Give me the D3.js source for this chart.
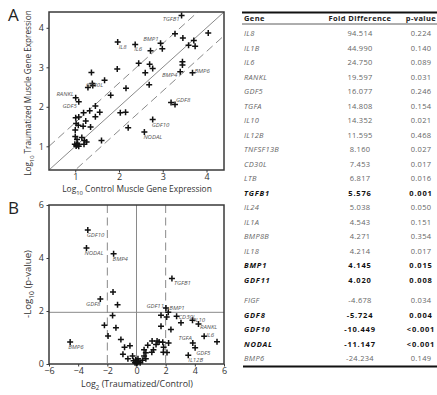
<!DOCTYPE html>
<html>
<head>
<meta charset="utf-8">
<script src="https://cdn.jsdelivr.net/npm/d3@7"></script>
<style>
  body { margin: 0; background: #fff; }
  svg { display: block; font-family: "Open Sans", sans-serif; }
</style>
</head>
<body>
<div id="chart"></div>
<script>
// ---- panel A: log10 control vs log10 traumatized expression ----
const controlA = [3.43, 1.97, 2.37, 2.95, 2.99, 2.72, 3.28, 3.46, 4.04, 3.71, 3.59, 3.74, 3.45, 3.45, 3.40, 3.68,
  2.45, 2.70, 2.77, 2.60, 2.69, 2.16, 1.96, 1.37, 1.67, 1.39, 1.40, 1.29, 1.81, 1.01, 1.08, 1.46, 1.33, 1.56,
  1.46, 1.19, 1.01, 1.08, 1.02, 1.24, 1.18, 1.35, 1.00, 1.07, 1.00, 1.04, 1.15, 1.21, 1.26, 1.20, 1.05, 1.02,
  1.08, 0.99, 1.60, 2.03, 2.15, 2.21, 3.19, 3.28, 2.77, 2.58, 1.03, 1.06];
const traumaA = [4.31, 3.64, 3.58, 3.61, 3.47, 3.42, 3.85, 3.74, 3.87, 3.68, 3.56, 3.53, 3.14, 3.06, 2.89, 2.86,
  3.10, 3.08, 2.97, 2.86, 2.56, 2.47, 2.96, 2.87, 2.67, 2.59, 2.54, 2.49, 2.29, 2.23, 2.13, 2.02, 1.90, 1.86,
  1.75, 1.85, 1.72, 1.74, 1.58, 1.64, 1.51, 1.49, 1.41, 1.53, 1.25, 1.17, 1.22, 1.15, 1.11, 1.05, 1.07, 1.01,
  1.00, 1.05, 1.15, 1.85, 1.86, 1.47, 2.11, 2.06, 1.68, 1.36, 1.03, 1.04];
const namesA = ["TGFB1", "IL8", "IL6", "BMP1", "", "", "", "", "", "", "", "", "", "", "BMP4", "BMP6",
  "", "", "", "", "", "", "", "", "CD30L", "", "", "", "", "RANKL", "GDF5", "", "", "",
  "", "", "", "", "", "", "", "", "", "", "", "", "", "", "", "", "", "",
  "", "", "", "", "", "", "", "GDF8", "GDF10", "NODAL", "", ""];
const ticksA = [1, 2, 3, 4];
const foldLineA = 0.6; // log10(4)

// ---- panel B: volcano plot ----
const log2Fold = [-3.34, -3.43, -1.57, 2.43, -1.61, -2.48, -1.30, 2.02, 2.18, 1.68, 2.07, 2.75, 3.05, 3.84, 4.25,
  4.64, 5.52, 3.86, 4.02, 3.55, -1.64, -2.20, -1.41, -1.95, -4.55, -1.07, -0.45, -0.82, -0.93, -0.59, -0.27,
  -0.20, -0.10, 0.00, 0.08, 0.15, -0.05, 0.10, 0.02, 0.25, 1.68, 2.36, 0.77, 1.07, 1.41, 1.55, 1.34, 1.80,
  1.86, 1.84, 2.20, 2.09, 1.16, 1.05, 0.64, 0.52, 0.64, 0.41, 0.52];
const negLogP = [5.06, 4.38, 4.16, 3.23, 2.72, 2.45, 2.24, 2.11, 1.95, 1.84, 1.77, 1.80, 1.56, 1.65, 1.51,
  1.05, 0.84, 0.79, 0.61, 0.33, 1.83, 1.46, 1.37, 1.06, 0.83, 0.92, 0.69, 0.63, 0.37, 0.20, 0.30,
  0.12, 0.05, 0.02, 0.06, 0.10, 0.15, 0.20, 0.08, 0.05, 1.42, 1.30, 0.71, 0.87, 0.87, 0.83, 0.74, 0.82,
  0.63, 0.44, 0.79, 0.43, 0.54, 0.44, 0.42, 0.30, 0.20, 0.14, 0.54];
const namesB = ["GDF10", "NODAL", "BMP4", "TGFB1", "", "GDF8", "", "GDF11", "BMP1", "", "", "CD30L", "", "IL10", "RANKL",
  "IL6", "", "TGFA", "GDF5", "IL12B", "", "", "", "", "BMP6", "", "", "", "", "", "",
  "", "", "", "", "", "", "", "", "", "", "", "", "", "", "", "", "",
  "", "", "", "", "", "", "", "", "", "", ""];
const ticksBx = [-6, -4, -2, 0, 2, 4, 6];
const ticksBy = [0, 2, 4, 6];
const pCutoff = 1.95;
const foldCutoff = 2;

// ---- table ----
const tableGenes = ["IL8", "IL1B", "IL6", "RANKL", "GDF5", "TGFA", "IL10", "IL12B", "TNFSF13B", "CD30L", "LTB", "TGFB1",
  "IL24", "IL1A", "BMP8B", "IL18", "BMP1", "GDF11", "FIGF", "GDF8", "GDF10", "NODAL", "BMP6"];
const tableFold = ["94.514", "44.990", "24.750", "19.597", "16.077", "14.808", "14.352", "11.595", "8.160", "7.453", "6.817", "5.576",
  "5.038", "4.543", "4.271", "4.214", "4.145", "4.020", "-4.678", "-5.724", "-10.449", "-11.147", "-24.234"];
const tablePval = ["0.224", "0.140", "0.089", "0.031", "0.246", "0.154", "0.021", "0.468", "0.027", "0.017", "0.016", "0.001",
  "0.050", "0.151", "0.354", "0.017", "0.015", "0.008", "0.034", "0.004", "<0.001", "<0.001", "0.149"];
const boldGenes = ["TGFB1", "BMP1", "GDF11", "GDF8", "GDF10", "NODAL"];
const firstDownGene = "FIGF";

// label placement: [dx, dy, anchor]
const labelPosA = {
  TGFB1: [-2, 5, "end"], IL8: [1, 7, "start"], IL6: [-1, 7, "start"], BMP1: [-2, -2, "end"],
  BMP4: [-3, 5, "end"], BMP6: [2, 0, "start"], CD30L: [-1.5, 7, "end"], RANKL: [-2, -2, "end"],
  GDF5: [-2, 6.5, "end"], GDF8: [1, -2, "start"], GDF10: [-1, 7.5, "start"], NODAL: [-1, 7, "start"]
};
const labelPosB = {
  GDF10: [-1, 7, "start"], NODAL: [-2, 7, "start"], BMP4: [-1, 7, "start"], TGFB1: [2, 7, "start"],
  GDF8: [0, 7, "end"], GDF11: [-2, 0, "end"], BMP1: [1, -2, "start"], CD30L: [2, 3, "start"],
  IL10: [1.5, 1.5, "start"], RANKL: [1.5, 5, "start"], IL6: [2, 1, "start"], TGFA: [-1, -3, "end"],
  GDF5: [1, 7, "start"], IL12B: [0, 7, "start"], BMP6: [-2, 7, "start"]
};

const W = 437, H = 395;
const svg = d3.select("#chart").append("svg").attr("width", W).attr("height", H);

const FRAME = "#3a3a3a";
const REF = "#8a8a8a";
const crossPath = "M-3,0H3M0,-3V3";

function drawPanel(box, xDomain, yDomain, xTicks, yTicks, clipId) {
  const x = d3.scaleLinear().domain(xDomain).range([box.left, box.right]);
  const y = d3.scaleLinear().domain(yDomain).range([box.bottom, box.top]);

  svg.append("clipPath").attr("id", clipId)
    .append("rect")
    .attr("x", box.left).attr("y", box.top)
    .attr("width", box.right - box.left).attr("height", box.bottom - box.top);

  const xAxis = svg.append("g")
    .attr("transform", `translate(0,${box.bottom})`)
    .call(d3.axisBottom(x).tickValues(xTicks).tickSize(2.5).tickPadding(1.5).tickFormat(d3.format("d")));
  const yAxis = svg.append("g")
    .attr("transform", `translate(${box.left},0)`)
    .call(d3.axisLeft(y).tickValues(yTicks).tickSize(2.5).tickPadding(2.5).tickFormat(d3.format("d")));
  [xAxis, yAxis].forEach(g => {
    g.select(".domain").remove();
    g.selectAll("line").attr("stroke", FRAME);
    g.selectAll("text").attr("font-size", 9).attr("fill", "#333").attr("font-family", "Open Sans");
  });
  return {x, y};
}

function drawFrame(box) {
  svg.append("rect")
    .attr("x", box.left).attr("y", box.top)
    .attr("width", box.right - box.left).attr("height", box.bottom - box.top)
    .attr("fill", "none").attr("stroke", FRAME).attr("stroke-width", 1.5);
}

function drawPoints(xs, ys, names, sc, pos) {
  const pts = xs.map((v, i) => ({x: v, y: ys[i], name: names[i]}));
  svg.append("g").selectAll("path")
    .data(pts)
    .join("path")
    .attr("d", crossPath)
    .attr("transform", d => `translate(${sc.x(d.x)},${sc.y(d.y)})`)
    .attr("stroke", "#111").attr("stroke-width", 1.5).attr("fill", "none");
  svg.append("g").selectAll("text")
    .data(pts.filter(d => d.name))
    .join("text")
    .attr("x", d => sc.x(d.x) + pos[d.name][0])
    .attr("y", d => sc.y(d.y) + pos[d.name][1])
    .attr("text-anchor", d => pos[d.name][2])
    .attr("font-size", 6).attr("font-style", "italic").attr("fill", "#555")
    .text(d => d.name);
}

// axis title with subscript, font size adjusted so the whole title spans `width` px
function axisTitle(transform, base, sub, rest, width) {
  const t = svg.append("text").attr("transform", transform)
    .attr("text-anchor", "middle").attr("font-size", 10).attr("fill", "#333");
  t.append("tspan").text(base);
  t.append("tspan").attr("font-size", "0.7em").attr("dy", 2.5).text(sub);
  t.append("tspan").attr("dy", -2.5).text(rest);
  const len = t.node().getComputedTextLength();
  t.attr("font-size", 10 * width / len);
  return t;
}

// ---------- Panel A ----------
const boxA = {left: 49, right: 224, top: 12, bottom: 170};
const scA = drawPanel(boxA, [0.4, 4.4], [0.4, 4.4], ticksA, ticksA, "clipA");
const refA = svg.append("g").attr("clip-path", "url(#clipA)");
[0, foldLineA, -foldLineA].forEach(off => {
  refA.append("line")
    .attr("x1", scA.x(0.4)).attr("y1", scA.y(0.4 + off))
    .attr("x2", scA.x(4.4)).attr("y2", scA.y(4.4 + off))
    .attr("stroke", REF).attr("stroke-width", 1)
    .attr("stroke-dasharray", off === 0 ? null : "8,4.5");
});
drawFrame(boxA);
drawPoints(controlA, traumaA, namesA, scA, labelPosA);

axisTitle("translate(137,192)", "Log", "10", " Control Muscle Gene Expression", 150);
axisTitle("translate(31,93) rotate(-90)", "Log", "10", " Traumatized Muscle Gene Expression", 166);

// ---------- Panel B ----------
const boxB = {left: 49, right: 224, top: 205, bottom: 364};
const scB = drawPanel(boxB, [-6, 6], [0, 6], ticksBx, ticksBy, "clipB");
const refB = svg.append("g");
[-foldCutoff, foldCutoff].forEach(v => {
  refB.append("line")
    .attr("x1", scB.x(v)).attr("x2", scB.x(v))
    .attr("y1", scB.y(6)).attr("y2", scB.y(0))
    .attr("stroke", REF).attr("stroke-width", 1).attr("stroke-dasharray", "8,4.5");
});
refB.append("line")
  .attr("x1", scB.x(0)).attr("x2", scB.x(0)).attr("y1", scB.y(6)).attr("y2", scB.y(0))
  .attr("stroke", REF).attr("stroke-width", 1);
refB.append("line")
  .attr("x1", scB.x(-6)).attr("x2", scB.x(6)).attr("y1", scB.y(pCutoff)).attr("y2", scB.y(pCutoff))
  .attr("stroke", REF).attr("stroke-width", 1);
drawFrame(boxB);
drawPoints(log2Fold, negLogP, namesB, scB, labelPosB);

axisTitle("translate(137,387)", "Log", "2", " (Traumatized/Control)", 112);
axisTitle("translate(31,284) rotate(-90)", "-Log", "10", " (p-value)", 68);

// panel letters
svg.append("text").attr("x", 8).attr("y", 21).attr("font-size", 17).attr("fill", "#222").text("A");
svg.append("text").attr("x", 8).attr("y", 214).attr("font-size", 17).attr("fill", "#222").text("B");

// ---------- Table ----------
const tbl = svg.append("g");
const colGene = 244, colFold = 360, colP = 421;
const rowY = d3.scaleLinear().domain([0, 1]).range([33.3, 47.8]);
const gapAfter = tableGenes.indexOf(firstDownGene);

tbl.append("line").attr("x1", 242).attr("x2", W).attr("y1", 12.5).attr("y2", 12.5)
  .attr("stroke", "#111").attr("stroke-width", 2);
tbl.append("line").attr("x1", 242).attr("x2", W).attr("y1", 24).attr("y2", 24)
  .attr("stroke", "#333").attr("stroke-width", 0.8);
tbl.append("line").attr("x1", 243).attr("x2", W).attr("y1", 366.5).attr("y2", 366.5)
  .attr("stroke", "#111").attr("stroke-width", 2);

const headers = [["Gene", colGene, "start"], ["Fold Difference", colFold, "middle"], ["p-value", colP, "middle"]];
tbl.selectAll("text.hdr")
  .data(headers)
  .join("text")
  .attr("class", "hdr")
  .attr("x", d => d[1]).attr("y", 21)
  .attr("text-anchor", d => d[2])
  .attr("font-size", 7.5).attr("font-weight", "bold").attr("letter-spacing", 0.4).attr("fill", "#222")
  .text(d => d[0]);

const rows = tableGenes.map((g, i) => ({
  gene: g, fold: tableFold[i], p: tablePval[i], bold: boldGenes.includes(g),
  y: rowY(i) + (i >= gapAfter ? 6 : 0) + 2.8
}));
const rowG = tbl.selectAll("g.row").data(rows).join("g").attr("class", "row");
rowG.append("text").attr("x", colGene).attr("y", d => d.y)
  .attr("font-style", "italic").text(d => d.gene);
rowG.append("text").attr("x", colFold).attr("y", d => d.y).attr("text-anchor", "middle").text(d => d.fold);
rowG.append("text").attr("x", colP).attr("y", d => d.y).attr("text-anchor", "middle").text(d => d.p);
rowG.selectAll("text")
  .attr("font-size", 7.5)
  .attr("font-weight", function () { return d3.select(this.parentNode).datum().bold ? "bold" : null; })
  .attr("letter-spacing", function () { return d3.select(this.parentNode).datum().bold ? 0.8 : 0.3; })
  .attr("fill", function () { return d3.select(this.parentNode).datum().bold ? "#111" : "#666"; });
</script>
</body>
</html>
